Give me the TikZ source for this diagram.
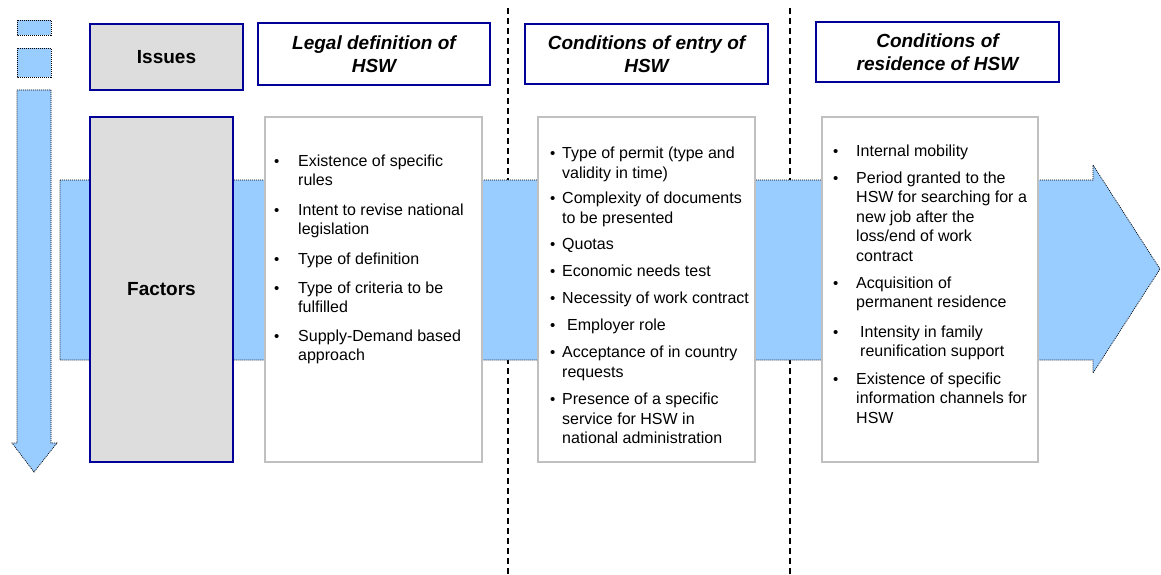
\documentclass[tikz,border=0pt]{standalone}
\usepackage{fontspec}
\setmainfont{Liberation Sans}
\definecolor{arrowblue}{HTML}{99CCFF}
\definecolor{navy}{HTML}{000099}
\definecolor{boxgray}{HTML}{DDDDDD}
\definecolor{bordergray}{HTML}{C0C0C0}
\begin{document}
\begin{tikzpicture}[x=1pt,y=-1pt,
  bluearrow/.style={fill=arrowblue, draw=black, line width=0.7pt, dash pattern=on 1pt off 1pt},
  graybox/.style={fill=boxgray, draw=navy, line width=1.5pt, inner sep=0pt, outer sep=0pt,
    font=\fontsize{19}{23}\selectfont\bfseries},
  headbox/.style={fill=white, draw=navy, line width=1.5pt, inner sep=0pt, outer sep=0pt,
    align=center, font=\fontsize{19}{23}\selectfont\bfseries\itshape},
  listbox/.style={fill=white, draw=bordergray, line width=1.5pt, inner sep=0pt, outer sep=0pt, anchor=north west},
  divider/.style={line width=1.2pt, dash pattern=on 6pt off 4pt},
  itemtxt/.style={anchor=base west, inner sep=0pt, font=\fontsize{16}{19.5}\selectfont},
  bul/.style={anchor=base west, inner sep=0pt, font=\fontsize{15}{17}\selectfont}
]
\useasboundingbox (0,0) rectangle (1161,575);
% dividers
\coordinate (d1t) at (508,8); \coordinate (d1b) at (508,575);
\coordinate (d2t) at (790,8); \coordinate (d2b) at (790,575);
\draw[divider] (d1t) -- (d1b);
\draw[divider] (d2t) -- (d2b);
% left vertical arrow
\draw[bluearrow] (17,20) rectangle (51,35);
\draw[bluearrow] (17,48) rectangle (51,77);
\draw[bluearrow] (17,90) -- (51,90) -- (51,443) -- (57,443) -- (34,472) -- (12,443) -- (17,443) -- cycle;
% horizontal arrow
\draw[bluearrow] (60,180) -- (1093,180) -- (1093,165) -- (1160,269) -- (1093,373) -- (1093,360) -- (60,360) -- cycle;
% left boxes
\node[graybox, minimum width=153pt, minimum height=66pt] (issues) at (166.5,57) {Issues};
\node[graybox, minimum width=143pt, minimum height=345pt] (factors) at (161.5,289.5) {Factors};
% header boxes
\node[headbox, minimum width=232pt, minimum height=62pt] (h1) at (374,54) {Legal definition of\\HSW};
\node[headbox, minimum width=243pt, minimum height=60pt] (h2) at (646.5,54) {Conditions of entry of\\HSW};
\node[headbox, minimum width=243pt, minimum height=60pt] (h3) at (937.5,52) {Conditions of\\residence of HSW};
% list boxes
\node[listbox, minimum width=217pt, minimum height=345pt] (l1) at (265,117) {};
\node[listbox, minimum width=217pt, minimum height=345pt] (l2) at (538,117) {};
\node[listbox, minimum width=216pt, minimum height=345pt] (l3) at (822,117) {};
% box 1 items
\node[bul] (a1b) at (274,166) {•};
\node[itemtxt] (a1) at (298,166) {\parbox[t]{180pt}{Existence of specific\\rules}};
\node[bul] (a2b) at (274,215) {•};
\node[itemtxt] (a2) at (298,215) {\parbox[t]{180pt}{Intent to revise national\\legislation}};
\node[bul] (a3b) at (274,264) {•};
\node[itemtxt] (a3) at (298,264) {\parbox[t]{180pt}{Type of definition}};
\node[bul] (a4b) at (274,293) {•};
\node[itemtxt] (a4) at (298,293) {\parbox[t]{180pt}{Type of criteria to be\\fulfilled}};
\node[bul] (a5b) at (274,341) {•};
\node[itemtxt] (a5) at (298,341) {\parbox[t]{180pt}{Supply-Demand based\\approach}};
% box 2 items
\node[bul] (b1b) at (550,158.5) {•};
\node[itemtxt] (b1) at (562,158.5) {\parbox[t]{190pt}{Type of permit (type and\\validity in time)}};
\node[bul] (b2b) at (550,203.5) {•};
\node[itemtxt] (b2) at (562,203.5) {\parbox[t]{190pt}{Complexity of documents\\to be presented}};
\node[bul] (b3b) at (550,249.5) {•};
\node[itemtxt] (b3) at (562,249.5) {\parbox[t]{190pt}{Quotas}};
\node[bul] (b4b) at (550,276.5) {•};
\node[itemtxt] (b4) at (562,276.5) {\parbox[t]{190pt}{Economic needs test}};
\node[bul] (b5b) at (550,303.5) {•};
\node[itemtxt] (b5) at (562,303.5) {\parbox[t]{190pt}{Necessity of work contract}};
\node[bul] (b6b) at (550,330.5) {•};
\node[itemtxt] (b6) at (567,330.5) {\parbox[t]{190pt}{Employer role}};
\node[bul] (b7b) at (550,357.5) {•};
\node[itemtxt] (b7) at (562,357.5) {\parbox[t]{190pt}{Acceptance of in country\\requests}};
\node[bul] (b8b) at (550,404.5) {•};
\node[itemtxt] (b8) at (562,404.5) {\parbox[t]{190pt}{Presence of a specific\\service for HSW in\\national administration}};
% box 3 items
\node[bul] (c1b) at (833,157) {•};
\node[itemtxt] (c1) at (856,157) {\parbox[t]{180pt}{Internal mobility}};
\node[bul] (c2b) at (833,183) {•};
\node[itemtxt] (c2) at (856,183) {\parbox[t]{180pt}{Period granted to the\\HSW for searching for a\\new job after the\\loss/end of work\\contract}};
\node[bul] (c3b) at (833,288) {•};
\node[itemtxt] (c3) at (856,288) {\parbox[t]{180pt}{Acquisition of\\permanent residence}};
\node[bul] (c4b) at (833,337) {•};
\node[itemtxt] (c4) at (860,337) {\parbox[t]{180pt}{Intensity in family\\reunification support}};
\node[bul] (c5b) at (833,384) {•};
\node[itemtxt] (c5) at (856,384) {\parbox[t]{180pt}{Existence of specific\\information channels for\\HSW}};
\end{tikzpicture}
\end{document}
